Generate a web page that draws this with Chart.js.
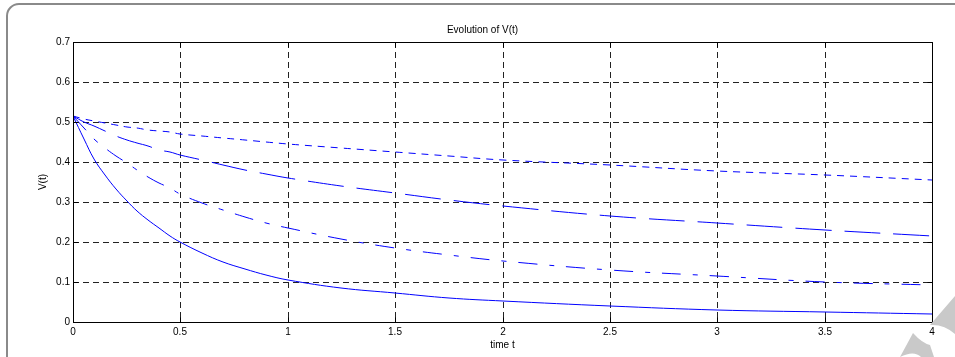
<!DOCTYPE html>
<html>
<head>
<meta charset="utf-8">
<title>Evolution of V(t)</title>
<script src="https://cdn.jsdelivr.net/npm/chart.js@4"></script>
<style>
  body { margin: 0; background: #fff; }
  canvas { display: block; }
</style>
</head>
<body>
<canvas id="myChart" width="955" height="357"></canvas>
<script>
// values
const times = [0, 0.05, 0.1, 0.15, 0.2, 0.25, 0.3, 0.35, 0.4, 0.45, 0.5, 0.6, 0.7, 0.8, 0.9, 1, 1.25, 1.5, 1.75, 2, 2.5, 3, 3.5, 4];
const vSolid = [0.515, 0.457, 0.408, 0.367, 0.333, 0.303, 0.277, 0.254, 0.234, 0.216, 0.200, 0.173, 0.151, 0.133, 0.118, 0.106, 0.086, 0.072, 0.061, 0.052, 0.040, 0.031, 0.025, 0.020];
const vDashDot = [0.515, 0.484, 0.457, 0.434, 0.414, 0.397, 0.381, 0.363, 0.348, 0.334, 0.320, 0.298, 0.279, 0.262, 0.247, 0.235, 0.208, 0.186, 0.168, 0.153, 0.129, 0.114, 0.101, 0.093];
const vLongDash = [0.515, 0.501, 0.489, 0.477, 0.466, 0.456, 0.447, 0.439, 0.431, 0.424, 0.417, 0.404, 0.392, 0.381, 0.371, 0.361, 0.340, 0.322, 0.305, 0.290, 0.266, 0.247, 0.230, 0.215];
const vShortDash = [0.515, 0.508, 0.502, 0.497, 0.492, 0.488, 0.484, 0.480, 0.477, 0.474, 0.471, 0.465, 0.460, 0.454, 0.449, 0.445, 0.434, 0.424, 0.414, 0.405, 0.392, 0.378, 0.367, 0.356];

const xTicks = [0, 0.5, 1, 1.5, 2, 2.5, 3, 3.5, 4];
const yTicks = [0, 0.1, 0.2, 0.3, 0.4, 0.5, 0.6, 0.7];

const FONT = "'Liberation Sans', Arial, Helvetica, sans-serif";

function toPoints(values) {
  return values.map((v, i) => ({ x: times[i], y: v }));
}

function series(values, dash) {
  return {
    data: toPoints(values),
    borderColor: "#0000ff",
    borderWidth: 1,
    borderDash: dash,
    pointRadius: 0,
    fill: false,
    tension: 0.4,
  };
}

// grey rounded frame round the figure and the watermark shape
const framePlugin = {
  id: "frame",
  beforeDraw(chart) {
    let ctx = chart.ctx;
    ctx.save();
    ctx.strokeStyle = "#8a8a8a";
    ctx.lineWidth = 2;
    ctx.beginPath();
    ctx.roundRect(7, 4, 980, 380, 12);
    ctx.stroke();
    ctx.restore();
  },
  afterDraw(chart) {
    let ctx = chart.ctx;
    ctx.save();
    ctx.fillStyle = "#c9c9c9";
    ctx.beginPath();
    ctx.moveTo(955, 296);
    ctx.lineTo(930, 325);
    ctx.quadraticCurveTo(944, 324, 955, 334);
    ctx.closePath();
    ctx.fill();
    ctx.beginPath();
    ctx.moveTo(913, 333);
    ctx.quadraticCurveTo(922, 343, 930, 345);
    ctx.lineTo(934, 357);
    ctx.lineTo(921, 357);
    ctx.quadraticCurveTo(914, 350, 900, 357);
    ctx.closePath();
    ctx.fill();
    ctx.restore();
  },
};

// full box round the axes with inward tick marks on every side
const boxPlugin = {
  id: "box",
  afterDatasetsDraw(chart) {
    let { ctx, chartArea: a, scales } = chart;
    let L = Math.round(a.left) + 0.5;
    let R = Math.round(a.right) + 0.5;
    let T = Math.round(a.top) + 0.5;
    let B = Math.round(a.bottom) + 0.5;
    ctx.save();
    ctx.strokeStyle = "#000";
    ctx.lineWidth = 1;
    ctx.beginPath();
    ctx.rect(L, T, R - L, B - T);
    xTicks.forEach((t) => {
      let px = Math.round(scales.x.getPixelForValue(t)) + 0.5;
      ctx.moveTo(px, B);
      ctx.lineTo(px, B - 5);
      ctx.moveTo(px, T);
      ctx.lineTo(px, T + 5);
    });
    yTicks.forEach((v) => {
      let py = Math.round(scales.y.getPixelForValue(v)) + 0.5;
      ctx.moveTo(L, py);
      ctx.lineTo(L + 5, py);
      ctx.moveTo(R, py);
      ctx.lineTo(R - 5, py);
    });
    ctx.stroke();
    ctx.restore();
  },
};

let ctx = document.getElementById("myChart").getContext("2d");

let myChart = new Chart(ctx, {
  type: "line",
  data: {
    datasets: [
      series(vSolid, []),
      series(vDashDot, [19, 12, 5, 12]),
      series(vLongDash, [36, 13]),
      series(vShortDash, [7, 6]),
    ],
  },
  options: {
    responsive: false,
    animation: false,
    layout: { padding: { left: 33, right: 23, top: 0, bottom: 6 } },
    plugins: {
      legend: { display: false },
      tooltip: { enabled: false },
      title: {
        display: true,
        text: "Evolution of V(t)",
        color: "#000",
        font: { family: FONT, size: 10, weight: "normal" },
        padding: { top: 24, bottom: 6 },
      },
    },
    scales: {
      x: {
        type: "linear",
        min: 0,
        max: 4,
        alignToPixels: true,
        afterBuildTicks: (scale) => {
          scale.ticks = xTicks.map((v) => ({ value: v }));
        },
        afterFit: (scale) => {
          scale.height = 29;
        },
        ticks: {
          color: "#000",
          padding: 4,
          maxRotation: 0,
          autoSkip: false,
          font: { family: FONT, size: 10 },
          callback: (v) => String(v),
        },
        grid: { color: "#222", lineWidth: 1, drawTicks: false },
        border: { display: false, dash: [6, 4] },
        title: {
          display: true,
          text: "time t",
          color: "#000",
          font: { family: FONT, size: 10 },
          padding: { top: 0, bottom: 0 },
        },
      },
      y: {
        type: "linear",
        min: 0,
        max: 0.7,
        alignToPixels: true,
        afterBuildTicks: (scale) => {
          scale.ticks = yTicks.map((v) => ({ value: v }));
        },
        afterFit: (scale) => {
          scale.width = 40;
        },
        ticks: {
          color: "#000",
          padding: 3,
          autoSkip: false,
          font: { family: FONT, size: 10 },
          callback: (v) => String(Math.round(v * 10) / 10),
        },
        grid: { color: "#222", lineWidth: 1, drawTicks: false },
        border: { display: false, dash: [6, 4] },
        title: {
          display: true,
          text: "V(t)",
          color: "#000",
          font: { family: FONT, size: 10 },
          padding: { top: 4, bottom: 0 },
        },
      },
    },
  },
  plugins: [framePlugin, boxPlugin],
});
</script>
</body>
</html>
